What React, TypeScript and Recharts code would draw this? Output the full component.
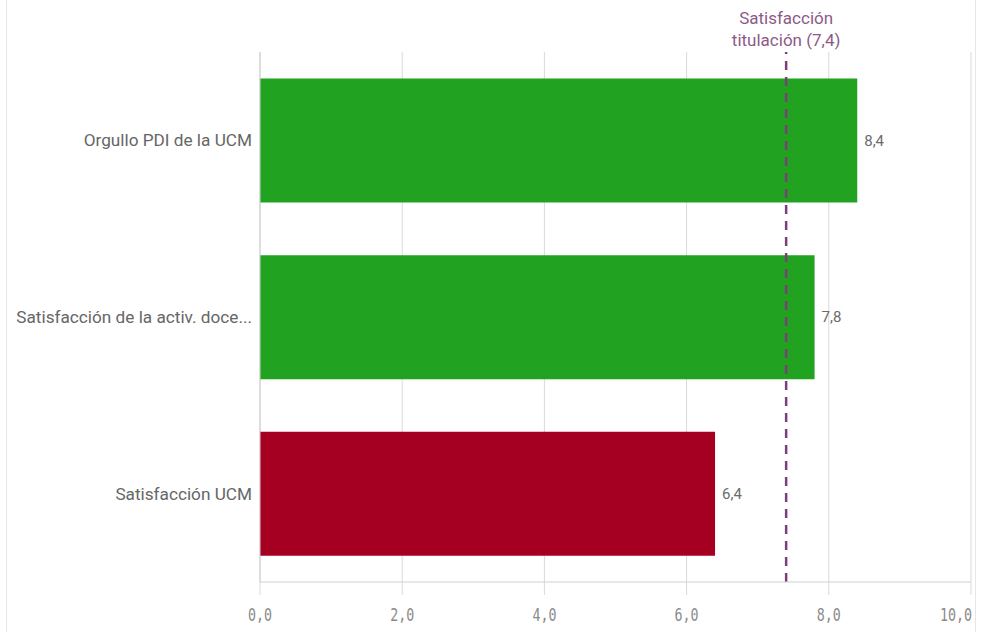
import React from 'react';
import {
  BarChart,
  Bar,
  XAxis,
  YAxis,
  CartesianGrid,
  ReferenceLine,
  LabelList,
  Cell,
} from 'recharts';

const categories = ['Orgullo PDI de la UCM', 'Satisfacción de la activ. docente', 'Satisfacción UCM'];
const scores = [8.4, 7.8, 6.4];
const barColors = ['#21a221', '#21a221', '#a50021'];
const xTicks = [0, 2, 4, 6, 8, 10];
const refValue = 7.4;
const refLabel = ['Satisfacción', 'titulación (7,4)'];

const data = categories.map((name, i) => ({ name, score: scores[i] }));

const fmt = (v: number) => v.toFixed(1).replace('.', ',');
const shorten = (s: string) => (s.length > 30 ? s.slice(0, 30) + '...' : s);

// condensed mono tick labels, last one pinned to the right edge
const XTick = (props: any) => {
  const { x, y, payload } = props;
  const last = payload.value === xTicks[xTicks.length - 1];
  const label = fmt(payload.value);
  return (
    <text
      x={last ? x + 1 : x}
      y={y}
      dy="0.71em"
      textAnchor={last ? 'end' : 'middle'}
      fill="#8a8a8a"
      fontSize={17}
      textLength={label.length * 8}
      lengthAdjust="spacingAndGlyphs"
      fontFamily="'DejaVu Sans Mono', monospace"
    >
      {label}
    </text>
  );
};

const RefLabel = (props: any) => {
  const { viewBox } = props;
  const cx = viewBox.x;
  const top = viewBox.y;
  return (
    <text textAnchor="middle" fill="#8c5a89" fontSize={17} fontFamily="Roboto, sans-serif">
      <tspan x={cx} y={top - 28}>{refLabel[0]}</tspan>
      <tspan x={cx} y={top - 6}>{refLabel[1]}</tspan>
    </text>
  );
};

export default function App() {
  return (
    <div style={{ position: 'absolute', left: 0, top: 0, width: 992, height: 632, background: '#fff' }}>
      <div style={{ position: 'absolute', left: 6, top: 0, width: 1, height: 632, background: '#e6e6e6' }} />
      <div style={{ position: 'absolute', left: 975, top: 0, width: 1, height: 632, background: '#e6e6e6' }} />
      <BarChart
        width={992}
        height={632}
        data={data}
        layout="vertical"
        margin={{ top: 52, right: 21, bottom: 0, left: 0 }}
        barCategoryGap="15%"
      >
        <CartesianGrid horizontal={false} vertical={true} stroke="#d9d9d9" />
        <XAxis
          type="number"
          domain={[0, 10]}
          ticks={xTicks}
          tick={<XTick />}
          tickSize={13}
          tickMargin={14}
          stroke="#d0d0d0"
          tickLine={{ stroke: '#d9d9d9' }}
          height={50}
        />
        <YAxis
          type="category"
          dataKey="name"
          width={260}
          tickLine={false}
          axisLine={{ stroke: '#cfcfcf' }}
          tickFormatter={shorten}
          tickMargin={2}
          tick={{ fill: '#666666', fontSize: 17.2, fontFamily: 'Roboto, sans-serif' }}
        />
        <Bar dataKey="score" isAnimationActive={false}>
          {data.map((d, i) => (
            <Cell key={d.name} fill={barColors[i]} />
          ))}
          <LabelList
            dataKey="score"
            position="right"
            offset={7}
            formatter={(v: any) => fmt(Number(v))}
            fill="#6b6b6b"
            fontSize={15}
            fontFamily="Roboto, sans-serif"
          />
        </Bar>
        <ReferenceLine
          x={refValue}
          stroke="#7b3f78"
          strokeWidth={2.5}
          strokeDasharray="9 7"
          label={<RefLabel />}
        />
      </BarChart>
    </div>
  );
}
